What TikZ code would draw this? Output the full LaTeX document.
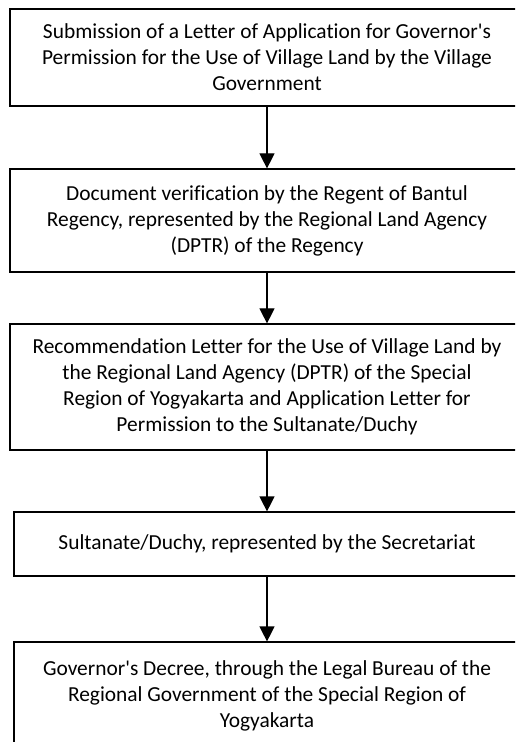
\documentclass[tikz,border=0pt]{standalone}
\usepackage{fontspec}
\setmainfont{Carlito}[Ligatures=NoCommon]
\usetikzlibrary{arrows.meta}
\tikzset{>={Triangle[width=7.5pt,length=7.5pt]}}
\tikzset{
  stepbox/.style = {
    draw, line width=0.6pt, align=center, inner sep=0pt,
    font=\fontsize{10.7}{13}\selectfont
  }
}

\begin{document}
\begin{tikzpicture}[x=0.5pt,y=-0.5pt]
  \useasboundingbox (0,0) rectangle (515,742);
  \clip (0,0) rectangle (515,742);
  % 
  \node[stepbox,minimum width=257pt,minimum height=48.5pt] (submission) at (267,57.5)
  {Submission of a Letter of Application for Governor\textquotesingle s\\
   Permission for the Use of Village Land by the Village\\
   Government};
  \node[stepbox,minimum width=257pt,minimum height=51.5pt] (verification) at (267,220.5)
  {Document verification by the Regent of Bantul\\
   Regency, represented by the Regional Land Agency\\
   (DPTR) of the Regency};
  \node[stepbox,minimum width=257pt,minimum height=63pt] (recommendation) at (267,387)
  {Recommendation Letter for the Use of Village Land by\\
   the Regional Land Agency (DPTR) of the Special\\
   Region of Yogyakarta and Application Letter for\\
   Permission to the Sultanate/Duchy};
  \node[stepbox,minimum width=253pt,minimum height=32pt] (sultanate) at (267,544)
  {Sultanate/Duchy, represented by the Secretariat};
  \node[stepbox,minimum width=253pt,minimum height=54pt] (decree) at (267,696)
  {Governor\textquotesingle s Decree, through the Legal Bureau of the\\
   Regional Government of the Special Region of\\
   Yogyakarta};
  % 
  \draw[->,line width=0.6pt] (submission) -- (verification);
  \draw[->,line width=0.6pt] (verification) -- (recommendation);
  \draw[->,line width=0.6pt] (recommendation) -- (sultanate);
  \draw[->,line width=0.6pt] (sultanate) -- (decree);
\end{tikzpicture}
\end{document}
